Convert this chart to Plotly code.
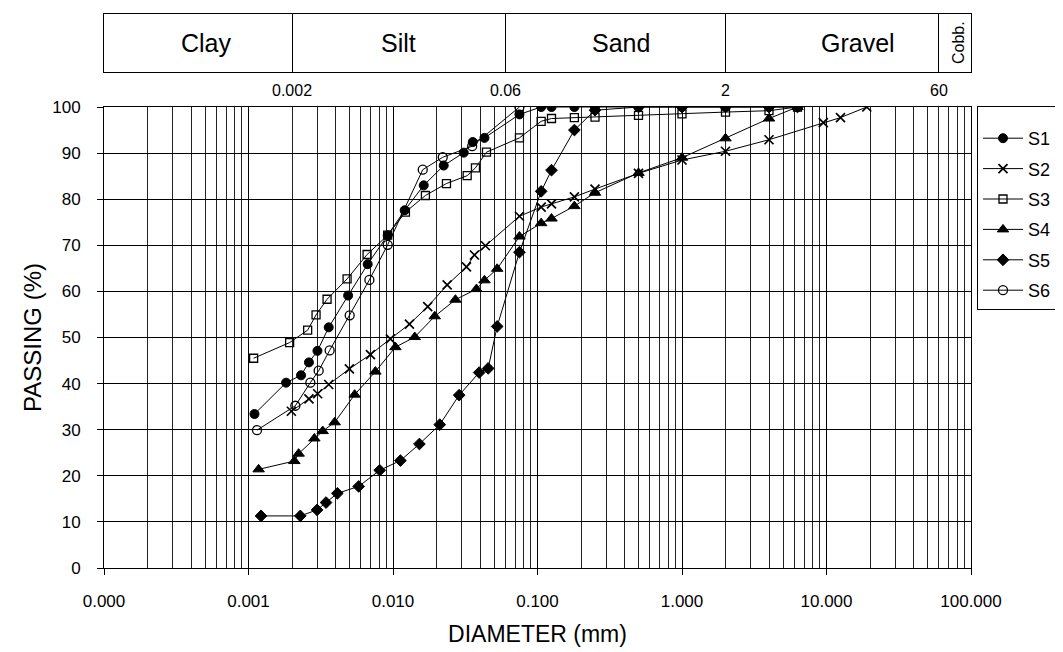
import plotly.graph_objects as go

# ---------------- data ----------------
S1_d = [0.00110, 0.00182, 0.00231, 0.00262, 0.00300, 0.00359, 0.00489, 0.00668, 0.00919,
        0.01205, 0.01632, 0.02244, 0.03088, 0.03565, 0.04295, 0.075, 0.106, 0.125, 0.18,
        0.25, 0.5, 1, 2, 4, 6.3]
S1_p = [33.4, 40.2, 41.8, 44.6, 47.1, 52.2, 59.1, 65.9, 72.2, 77.6, 83.0, 87.3, 90.1, 92.4,
        93.3, 98.4, 100, 100, 100, 100, 100, 100, 100, 100, 100]

S2_d = [0.00198, 0.00262, 0.00301, 0.00359, 0.00499, 0.00698, 0.00959, 0.01299, 0.01739,
        0.0237, 0.03224, 0.03662, 0.04364, 0.075, 0.106, 0.125, 0.18, 0.25, 0.5, 1, 2, 4,
        9.5, 12.5, 19]
S2_p = [34.0, 36.7, 37.8, 39.8, 43.2, 46.3, 49.7, 52.9, 56.7, 61.4, 65.3, 67.9, 69.9, 76.3,
        78.3, 79.0, 80.5, 82.2, 85.6, 88.5, 90.4, 92.9, 96.6, 97.7, 100]

S3_d = [0.001085, 0.001926, 0.002567, 0.002934, 0.003497, 0.004811, 0.006617, 0.00919,
        0.01219, 0.01676, 0.02344, 0.03261, 0.03721, 0.04434, 0.075, 0.106, 0.125, 0.18,
        0.25, 0.5, 1, 2, 4, 6.3]
S3_p = [45.5, 48.9, 51.6, 54.9, 58.3, 62.7, 68.0, 72.2, 77.2, 80.8, 83.4, 85.1, 86.8, 90.2,
        93.3, 96.9, 97.5, 97.7, 97.8, 98.2, 98.5, 98.9, 99.2, 100]

S4_d = [0.001175, 0.002076, 0.002223, 0.002856, 0.00326, 0.003947, 0.00543, 0.007553,
        0.01039, 0.01414, 0.01945, 0.02704, 0.03781, 0.04296, 0.05259, 0.075, 0.106, 0.125,
        0.18, 0.25, 0.5, 1, 2, 4, 6.3]
S4_p = [21.4, 23.2, 24.8, 28.1, 29.7, 31.6, 37.6, 42.6, 47.9, 50.1, 54.6, 58.2, 60.5, 62.4,
        64.9, 71.9, 74.8, 75.8, 78.5, 81.4, 85.7, 89.0, 93.2, 97.5, 100]

S5_d = [0.001221, 0.002284, 0.002981, 0.003441, 0.004121, 0.005787, 0.008089, 0.011251,
        0.015233, 0.021059, 0.028697, 0.039481, 0.045558, 0.05259, 0.075, 0.106, 0.125,
        0.18, 0.25, 0.5, 1, 2, 4, 6.3]
S5_p = [11.3, 11.3, 12.6, 14.2, 16.2, 17.7, 21.2, 23.3, 26.9, 31.1, 37.5, 42.4, 43.3, 52.4,
        68.5, 81.7, 86.3, 95.0, 99.3, 100, 100, 100, 100, 100]

S6_d = [0.001145, 0.002109, 0.002679, 0.003059, 0.003644, 0.005014, 0.006864, 0.00919,
        0.01606, 0.02209, 0.0353, 0.075]
S6_p = [29.9, 35.2, 40.2, 42.8, 47.2, 54.8, 62.5, 70.1, 86.4, 89.1, 91.5, 100]

# x tick labels (decades)
x_tickvals = [0.0001, 0.001, 0.01, 0.1, 1, 10, 100]
x_ticktext = ["0.000", "0.001", "0.010", "0.100", "1.000", "10.000", "100.000"]
y_tickvals = [0, 10, 20, 30, 40, 50, 60, 70, 80, 90, 100]

# soil classification band
class_bounds = [0.002, 0.06, 2, 60]
class_bound_text = ["0.002", "0.06", "2", "60"]
class_names = ["Clay", "Silt", "Sand", "Gravel", "Cobb."]

# ---------------- figure ----------------
FONT = "Arial, Liberation Sans, Helvetica, sans-serif"
series = [
    ("S1", S1_d, S1_p, "circle", 9, 1.0),
    ("S2", S2_d, S2_p, "x-thin", 9, 1.7),
    ("S3", S3_d, S3_p, "square-open", 8, 1.3),
    ("S4", S4_d, S4_p, "triangle-up", 10, 1.0),
    ("S5", S5_d, S5_p, "diamond", 9, 1.0),
    ("S6", S6_d, S6_p, "circle-open", 9, 1.3),
]

fig = go.Figure()
for name, d, p, sym, sz, lw in series:
    fig.add_trace(go.Scatter(
        x=d, y=p, name=name, mode="lines+markers",
        legendgroup=name,
        line=dict(color="black", width=1),
        marker=dict(symbol=sym, size=sz, color="black",
                    line=dict(color="black", width=lw)),
        xaxis="x", yaxis="y",
    ))

minor_vals = []
for e in range(-4, 2):
    for k in range(2, 10):
        minor_vals.append(k * 10 ** e)

# page body adds an 8px offset; figure sized to fit the window
W, H = 1055, 644
L, R, T, B = 96, 92, 6, 84
plot_h = H - T - B
main_top = (H - B - 99) / plot_h
band_bottom = (H - B - 64) / plot_h

fig.update_layout(
    width=W, height=H,
    margin=dict(l=L, r=R, t=T, b=B, autoexpand=False),
    paper_bgcolor="white", plot_bgcolor="white",
    font=dict(family=FONT, color="black", size=17),
    showlegend=True,
    legend=dict(
        x=(969 - L) / (W - L - R), y=(H - B - 98) / plot_h,
        xanchor="left", yanchor="top",
        bordercolor="black", borderwidth=1, bgcolor="white",
        font=dict(size=18, family=FONT), itemwidth=40,
        tracegroupgap=4, traceorder="grouped",
        title=dict(text=" ", font=dict(size=10)),
    ),
    xaxis=dict(
        type="log", range=[-4, 2], domain=[0, 1], anchor="y",
        tickmode="array", tickvals=x_tickvals, ticktext=x_ticktext,
        ticks="outside", ticklen=6, tickcolor="black", ticklabelstandoff=12,
        showgrid=True, gridcolor="black", gridwidth=1,
        minor=dict(tickmode="array", tickvals=minor_vals, showgrid=True,
                   gridcolor="#222", gridwidth=1, ticks=""),
        showline=True, linecolor="black", linewidth=1, mirror=True,
        zeroline=False,
        title=dict(text="DIAMETER (mm)", font=dict(size=23), standoff=15),
        tickfont=dict(size=17),
    ),
    yaxis=dict(
        range=[0, 100], domain=[0, main_top], anchor="x",
        tickmode="array", tickvals=y_tickvals,
        ticks="outside", ticklen=6, tickcolor="black", ticklabelstandoff=13,
        showgrid=True, gridcolor="black", gridwidth=1,
        showline=True, linecolor="black", linewidth=1, mirror=True,
        zeroline=False,
        title=dict(text="PASSING (%)", font=dict(size=24), standoff=3),
        tickfont=dict(size=17),
    ),
    xaxis2=dict(
        type="log", range=[-4, 2], domain=[0, 1], anchor="y2",
        tickmode="array", tickvals=class_bounds, ticktext=class_bound_text,
        ticks="", ticklabelstandoff=4,
        showgrid=True, gridcolor="black", gridwidth=1,
        showline=True, linecolor="black", linewidth=1, mirror=True,
        zeroline=False, tickfont=dict(size=16),
    ),
    yaxis2=dict(
        range=[0, 1], domain=[band_bottom, 1], anchor="x2",
        showticklabels=False, ticks="", showgrid=False, zeroline=False,
        showline=True, linecolor="black", linewidth=1, mirror=True,
    ),
)

# invisible trace so the band axes are drawn
fig.add_trace(go.Scatter(x=[1], y=[-1], xaxis="x2", yaxis="y2", mode="markers",
                         showlegend=False, hoverinfo="skip",
                         marker=dict(opacity=0)))

# band labels (centres in log10 of diameter)
label_pos = [-3.29, -1.96, -0.42, 1.22, 1.91]
for name, lp in zip(class_names, label_pos):
    if name == "Cobb.":
        fig.add_annotation(x=lp, y=0.5, xref="x2", yref="y2", text=name,
                           showarrow=False, textangle=-90, font=dict(size=16))
    else:
        fig.add_annotation(x=lp, y=0.5, xref="x2", yref="y2", text=name,
                           showarrow=False, font=dict(size=25))

fig.write_html("out.html")
